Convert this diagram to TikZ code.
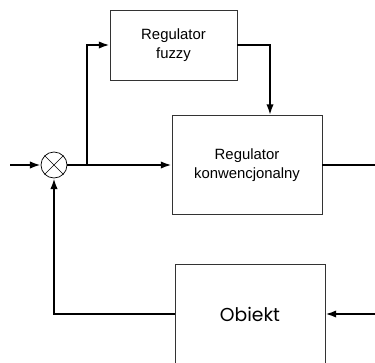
\documentclass[tikz,border=0pt]{standalone}
\usepackage{fontspec}
\setmainfont{Liberation Sans}
\newfontfamily\obfont{Poppins}
\usetikzlibrary{arrows.meta}
\usetikzlibrary{calc}

\begin{document}
\begin{tikzpicture}[x=0.03cm,y=-0.03cm,
	blok/.style={draw=black!80, line width=0.8pt, align=center, font=\fontsize{12.7}{16}\selectfont},
	sig/.style={line width=1.6pt, -{Latex[length=3.2mm,width=2.2mm]}},
	lin/.style={line width=1.6pt}]
	\useasboundingbox (0,0) rectangle (375,362);
	\clip (0,0) rectangle (375,362);
	\node [blok, minimum width=3.81cm, minimum height=2.1cm] (fuzzy) at (173.5,45) {Regulator\\fuzzy};
	\node [blok, minimum width=4.5cm, minimum height=2.97cm] (conv) at (247,165) {Regulator\\konwencjonalny};
	\node [blok, minimum width=4.5cm, minimum height=3cm, font=\obfont\fontsize{16}{19}\selectfont] (obj) at (250,314) {Obiekt};
	\node [circle, draw, line width=0.6pt, minimum size=0.78cm, inner sep=0pt] (sum) at (54,165) {};
	\draw [line width=0.4pt] (sum.north east) -- (sum.south west) (sum.north west) -- (sum.south east);
	\coordinate (in) at (10,165);
	\coordinate (branch) at (87,165);
	\coordinate (out) at (375,165);
	\coordinate (plantin) at (375,314);
	\draw [sig] (in) -- (sum);
	\draw [sig] (sum) -- (conv);
	\draw [sig] (branch) |- (fuzzy);
	\draw [sig] (fuzzy) -| ($(conv.north)+(23,0)$);
	\draw [lin] (conv) -- (out);
	\draw [sig] (plantin) -- (obj);
	\draw [sig] (obj) -| (sum);
\end{tikzpicture}
\end{document}
